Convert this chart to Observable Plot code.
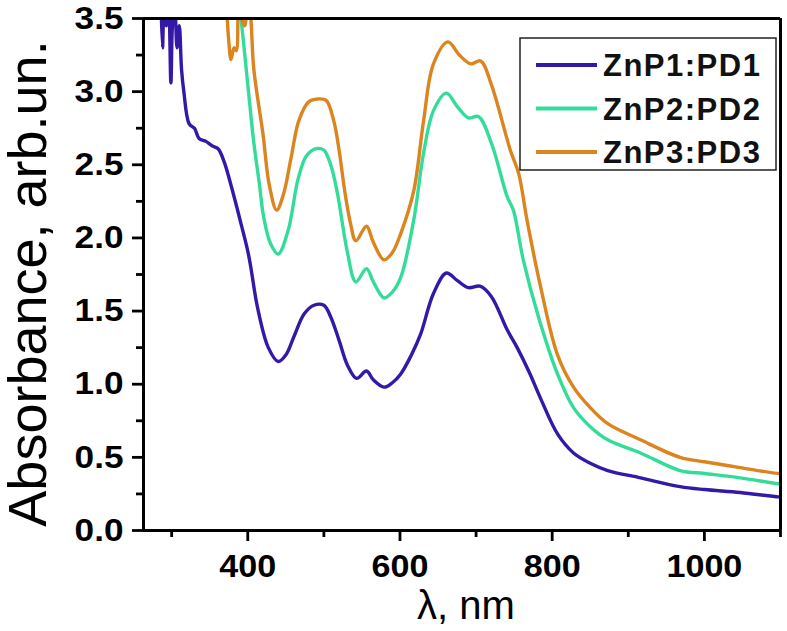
<!DOCTYPE html>
<html>
<head>
<meta charset="utf-8">
<script src="https://cdn.jsdelivr.net/npm/d3@7"></script>
<script src="https://cdn.jsdelivr.net/npm/@observablehq/plot@0.6"></script>
<style>
  body { margin: 0; background: white; }
  #chart { position: relative; width: 787px; height: 631px; }
</style>
</head>
<body>
<div id="chart"></div>
<script>
// Series: [wavelength nm, absorbance]
const seriesNames = ["ZnP1:PD1", "ZnP2:PD2", "ZnP3:PD3"];
const seriesColors = ["#3418a8", "#33dd99", "#dc841e"];

const znp1 = [[286,3.6],[288,3.3],[290,3.6],[293,3.45],[296,3.6],[299,3.06],[301,3.45],[304,3.6],[307,3.3],[310,3.45],[313,3.15],[316,3.0],[323,2.78],[330,2.75],[336,2.68],[345,2.66],[353,2.63],[361,2.61],[369,2.52],[378,2.36],[391,2.10],[400,1.91],[404,1.80],[413,1.52],[427,1.25],[440,1.155],[450,1.2],[461,1.33],[474,1.48],[487,1.54],[500,1.54],[509,1.46],[520,1.3],[531,1.13],[543,1.04],[556,1.09],[565,1.03],[579,0.98],[590,1.01],[601,1.07],[615,1.2],[627,1.34],[644,1.62],[661,1.76],[675,1.71],[690,1.66],[705,1.67],[720,1.6],[741,1.37],[754,1.25],[770,1.08],[785,0.90],[807,0.66],[828,0.53],[850,0.46],[873,0.41],[916,0.36],[968,0.30],[1000,0.28],[1047,0.26],[1097,0.23],[1100,0.23]];

const znp2 = [[388,3.6],[391,3.5],[400,3.05],[408,2.65],[415,2.38],[421,2.14],[430,1.96],[440,1.89],[453,2.05],[466,2.4],[477,2.56],[490,2.61],[500,2.6],[509,2.5],[518,2.3],[531,1.9],[542,1.70],[556,1.79],[565,1.70],[579,1.59],[590,1.63],[601,1.73],[618,2.12],[631,2.58],[644,2.87],[661,2.99],[675,2.90],[690,2.82],[703,2.83],[720,2.65],[741,2.28],[749,2.19],[762,1.85],[782,1.46],[807,1.07],[828,0.84],[850,0.71],[873,0.62],[916,0.53],[968,0.41],[1000,0.39],[1047,0.36],[1097,0.32],[1100,0.32]];

const znp3 = [[372,3.6],[375,3.35],[378,3.22],[382,3.3],[385,3.28],[388,3.6],[392,3.5],[396,3.45],[400,3.6],[403,3.55],[408,3.15],[420,2.71],[428,2.37],[438,2.19],[447,2.3],[457,2.55],[467,2.8],[480,2.93],[492,2.95],[503,2.94],[513,2.8],[520,2.6],[528,2.3],[535,2.1],[542,1.98],[556,2.08],[565,1.97],[579,1.85],[590,1.9],[601,2.03],[618,2.32],[631,2.80],[644,3.19],[663,3.34],[678,3.25],[693,3.19],[706,3.21],[720,3.05],[745,2.60],[756,2.44],[767,2.12],[785,1.66],[807,1.20],[828,0.98],[850,0.84],[873,0.73],[916,0.62],[968,0.50],[1000,0.47],[1047,0.43],[1097,0.39],[1100,0.39]];

const xDomain = [263, 1100];
const yDomain = [0, 3.5];
const xMajor = [400, 600, 800, 1000];
const xMinor = [300, 500, 700, 900, 1100];
const yMajor = [0, 0.5, 1, 1.5, 2, 2.5, 3, 3.5];
const yMinor = [0.25, 0.75, 1.25, 1.75, 2.25, 2.75, 3.25];
const xTitle = "λ, nm";
const yTitle = "Absorbance, arb.un.";

const allSeries = [znp1, znp2, znp3];

const font = "'Liberation Sans', Arial, sans-serif";

const plot = Plot.plot({
  width: 787,
  height: 631,
  marginLeft: 143,
  marginRight: 7,
  marginTop: 18,
  marginBottom: 101,
  style: { fontFamily: font, background: "white", color: "black" },
  x: { domain: xDomain },
  y: { domain: yDomain },
  marks: [
    ...allSeries.map((s, i) => Plot.line(s, {
      x: d => d[0], y: d => d[1],
      stroke: seriesColors[i], strokeWidth: 3.4,
      curve: "catmull-rom", clip: true
    })),
    Plot.ruleX(xDomain, { stroke: "black", strokeWidth: 3 }),
    Plot.ruleY(yDomain, { stroke: "black", strokeWidth: 3 }),
    Plot.axisX(xMajor, { tickSize: 11, tickPadding: 13, tickFormat: d => String(d), fontSize: 31, fontWeight: "bold", label: null, strokeWidth: 2.8 }),
    Plot.axisX(xMinor, { tickSize: 7, tickFormat: () => "", label: null, strokeWidth: 2.8 }),
    Plot.axisY(yMajor, { tickSize: 11, tickPadding: 9, tickFormat: d3.format(".1f"), fontSize: 32, fontWeight: "bold", label: null, strokeWidth: 2.8 }),
    Plot.axisY(yMinor, { tickSize: 7, tickFormat: () => "", label: null, strokeWidth: 2.8 }),
    Plot.text([yTitle], { text: d => d, frameAnchor: "left", dx: -115, dy: 9, rotate: -90, fontSize: 54, textAnchor: "middle", lineAnchor: "middle", fill: "black" }),
    Plot.text([xTitle], { text: d => d, frameAnchor: "bottom", dx: 4, dy: 76, fontSize: 40, textAnchor: "middle", lineAnchor: "middle", fill: "black" })
  ]
});

// Widen tick labels slightly to match the reference's proportions
plot.querySelectorAll('g[aria-label$="tick label"] text').forEach(t => {
  const tr = t.getAttribute("transform") || "";
  t.setAttribute("transform", tr + " scale(1.1,1)");
});
// Heavy ticks
plot.querySelectorAll('[aria-label$="-axis tick"], [aria-label$="-axis tick"] *').forEach(el => {
  el.setAttribute("stroke-width", 2.8);
  el.setAttribute("stroke", "black");
});

// Legend
const svg = d3.select(plot);
const lg = svg.append("g").attr("font-family", font).attr("text-anchor", "start");
lg.append("rect").attr("x", 520).attr("y", 38).attr("width", 256).attr("height", 132)
  .attr("fill", "white").attr("stroke", "#222").attr("stroke-width", 1.5);
seriesNames.forEach((name, i) => {
  const cy = 65 + i * 43.5;
  lg.append("line").attr("x1", 536).attr("x2", 597).attr("y1", cy).attr("y2", cy)
    .attr("stroke", seriesColors[i]).attr("stroke-width", 4);
  lg.append("text").attr("x", 603).attr("y", cy + 11).attr("font-size", 31)
    .attr("font-weight", "bold").attr("letter-spacing", 1.5).attr("fill", "#111")
    .attr("text-anchor", "start").text(name);
});

document.getElementById("chart").append(plot);
</script>
</body>
</html>
